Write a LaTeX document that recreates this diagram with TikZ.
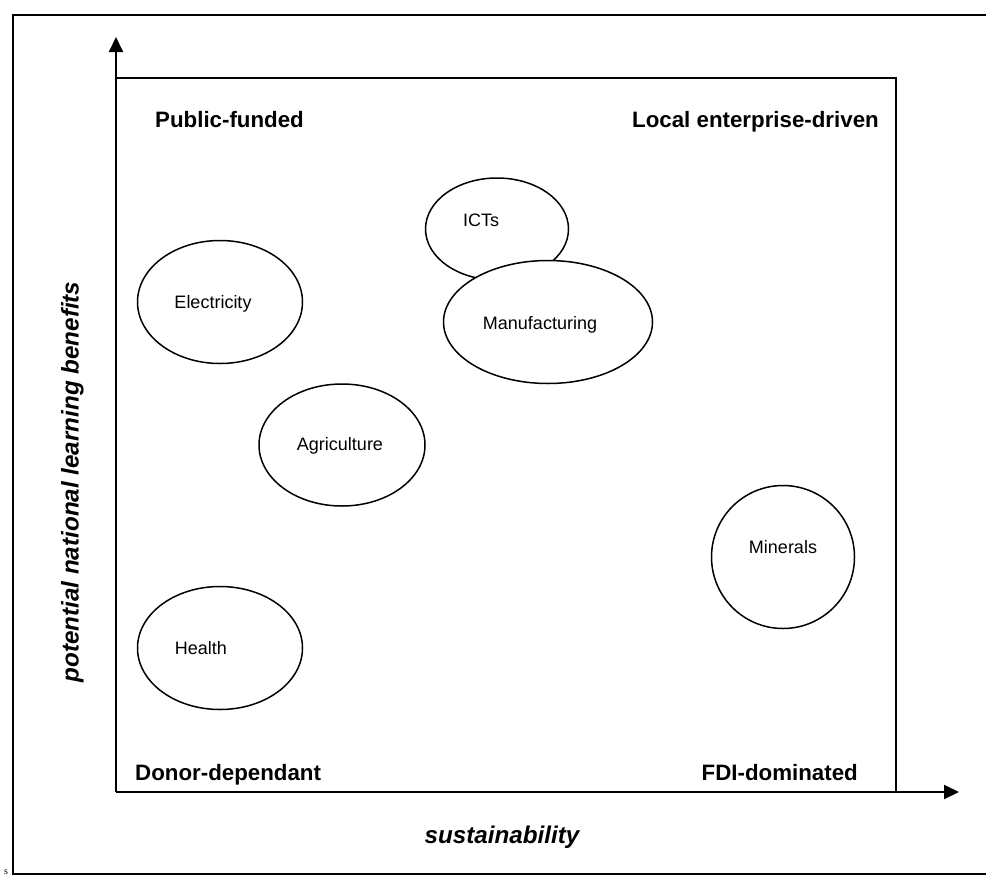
\documentclass[tikz,border=0pt]{standalone}
\usepackage{fontspec}
\setmainfont{Liberation Sans}
\newfontfamily\serifface{Liberation Serif}
\usetikzlibrary{shapes.geometric,arrows.meta}
\tikzset{
  bubble/.style={draw, line width=1.5pt, ellipse, inner sep=0pt},
  bubtext/.style={font=\fontsize{18}{20}\selectfont, text height=13pt, text depth=0pt, inner sep=0pt, anchor=center},
  quad/.style={font=\bfseries\fontsize{22.3}{26}\selectfont, text height=16pt, text depth=0pt, inner sep=0pt},
  axislabel/.style={font=\bfseries\itshape\fontsize{24.2}{28}\selectfont, text height=17.4pt, text depth=0pt, inner sep=0pt},
  axis/.style={line width=2pt, -{Triangle[length=15pt, width=14pt]}},
}
\begin{document}
\begin{tikzpicture}[x=1pt, y=-1pt]
\useasboundingbox (0,0) rectangle (986,876);
\begin{scope}
\clip (0,0) rectangle (986,876);
\draw[line width=1.5pt] (13,15) rectangle (995,874);
\end{scope}
% inner frame
\coordinate (O) at (116,792);
\coordinate (ytip) at (116,37);
\coordinate (xtip) at (959,792);
\coordinate (tl) at (116,78);
\coordinate (tr) at (896,78);
\coordinate (br) at (896,792);
\draw[line width=2pt] (tl) -- (tr) -- (br);
\draw[axis] (O) -- (ytip);
\draw[axis] (O) -- (xtip);
% quadrant labels
\node[quad, anchor=west] (pub) at (155,119) {Public-funded};
\node[quad, anchor=east] (loc) at (879,119) {Local enterprise-driven};
\node[quad, anchor=west] (don) at (135,772) {Donor-dependant};
\node[quad, anchor=east] (fdi) at (858,772) {FDI-dominated};
% axis labels
\node[axislabel] (xl) at (502,835) {sustainability};
\node[axislabel, rotate=90] (yl) at (70,482) {potential national learning benefits};
% bubbles
\node[bubble, minimum width=143pt, minimum height=102pt] (icte) at (497,229) {};
\node[bubtext] (ictt) at (481,220) {ICTs};
\node[bubble, fill=white, minimum width=209pt, minimum height=123pt] (mane) at (548,322) {};
\node[bubtext] (mant) at (540,323) {Manufacturing};
\node[bubble, minimum width=165pt, minimum height=123pt] (elee) at (220,302) {};
\node[bubtext] (elet) at (213,302) {Electricity};
\node[bubble, minimum width=166pt, minimum height=122pt] (agre) at (342,445) {};
\node[bubtext] (agrt) at (340,444) {Agriculture};
\node[bubble, minimum width=143pt, minimum height=143pt] (mine) at (783,557) {};
\node[bubtext] (mint) at (783,547) {Minerals};
\node[bubble, minimum width=165pt, minimum height=123pt] (heae) at (220,648) {};
\node[bubtext] (heat) at (201,648) {Health};
% stray glyph
\node[font=\serifface\fontsize{10}{12}\selectfont, inner sep=0pt, anchor=base] (s) at (6,874.5) {s};
\end{tikzpicture}
\end{document}
